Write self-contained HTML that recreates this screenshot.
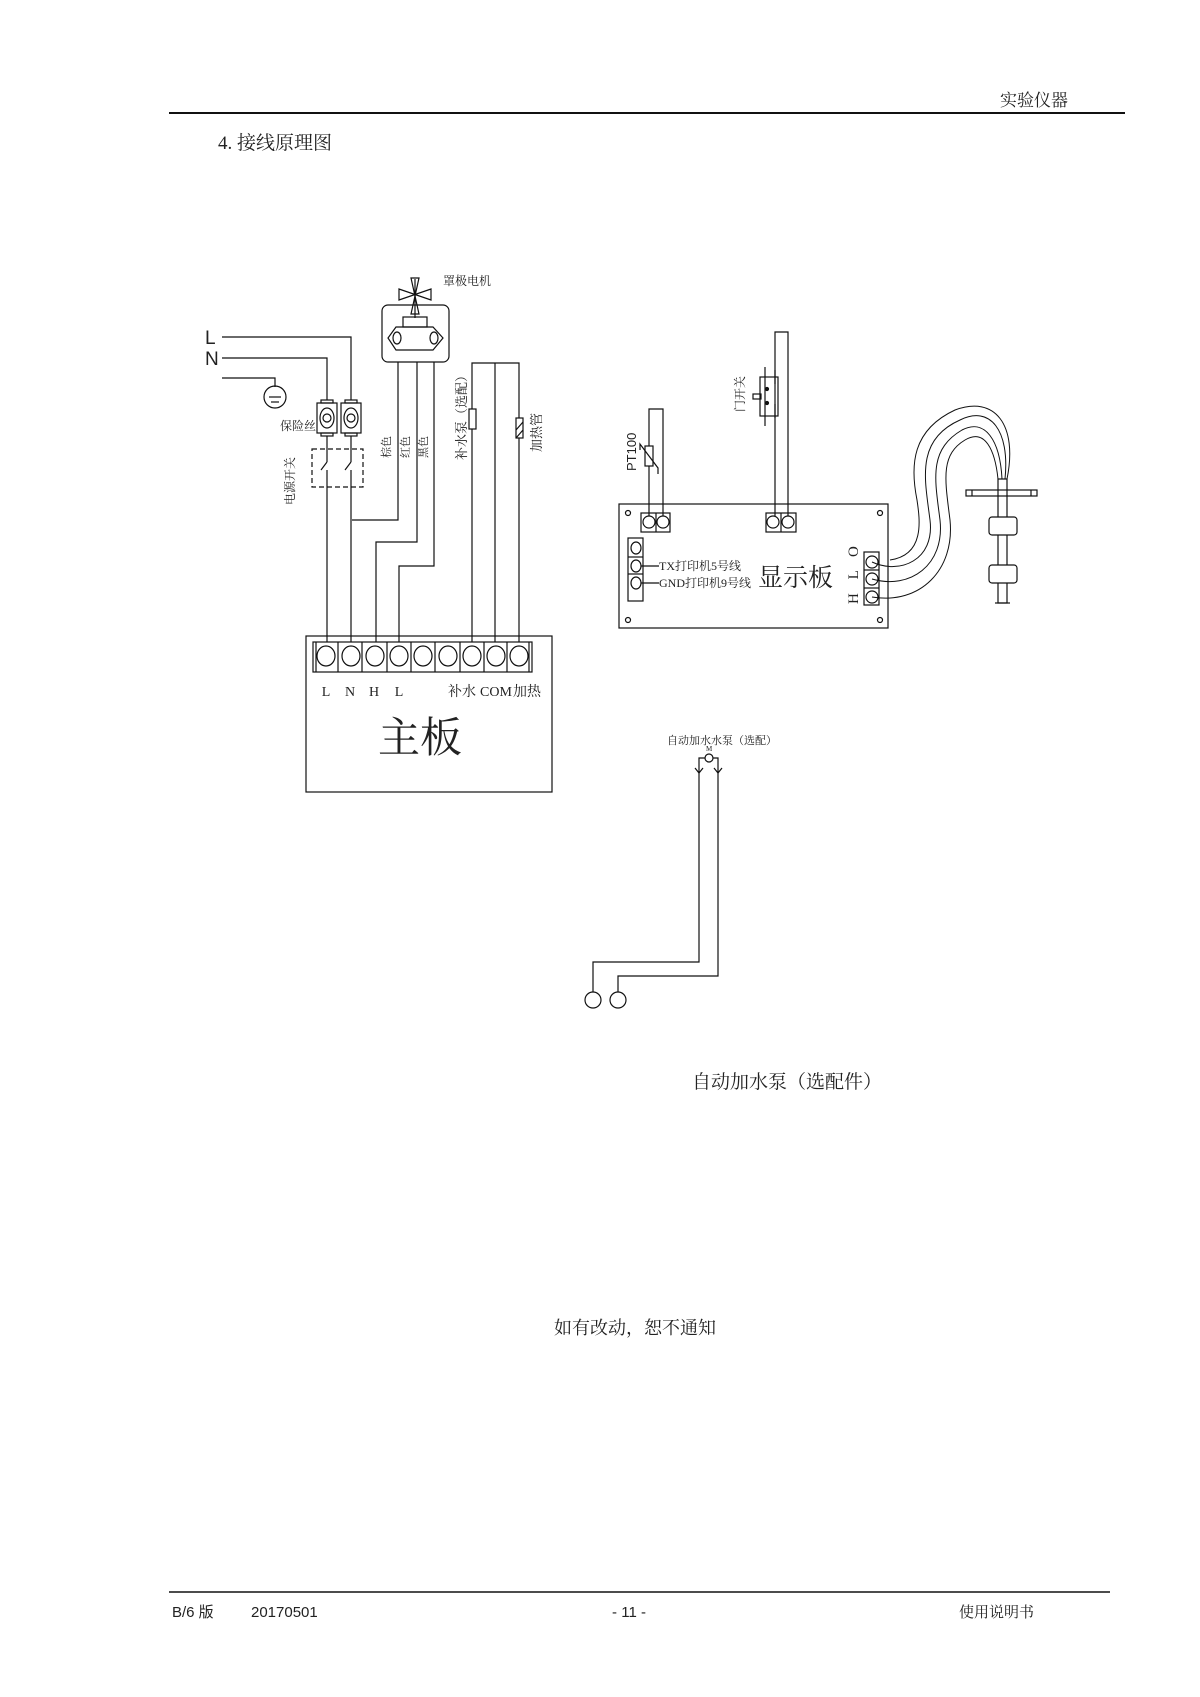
<!DOCTYPE html>
<html><head><meta charset="utf-8"><style>
html,body{margin:0;padding:0;background:#fff;}
svg{display:block;}
text{font-family:"Liberation Serif","Noto Serif CJK SC",serif;fill:#222;}
.s{font-family:"Liberation Sans","Noto Sans CJK SC",sans-serif;}
</style></head><body>
<svg width="1200" height="1697" viewBox="0 0 1200 1697" xmlns="http://www.w3.org/2000/svg" fill="none" stroke="#111" stroke-width="1.2">
<!-- header -->
<text x="1068" y="106" font-size="17" text-anchor="end" stroke="none">实验仪器</text>
<line x1="169" y1="113" x2="1125" y2="113" stroke-width="2"/>
<text x="218" y="149" font-size="19" stroke="none">4.  接线原理图</text>

<!-- mains -->
<text class="s" x="205" y="344" font-size="19" stroke="none" font-weight="lighter">L</text>
<text class="s" x="205" y="365" font-size="19" stroke="none">N</text>
<polyline points="222,337 351,337 351,400"/>
<polyline points="222,358 327,358 327,400"/>
<polyline points="222,378 275,378 275,387"/>
<circle cx="275" cy="397" r="11"/>
<line x1="269" y1="397" x2="281" y2="397"/><line x1="271" y1="402" x2="279" y2="402"/>
<!-- fuses -->
<g>
<rect x="317" y="403" width="20" height="30"/><rect x="321" y="400" width="12" height="3"/><rect x="321" y="433" width="12" height="3"/>
<ellipse cx="327" cy="418" rx="7" ry="10"/><circle cx="327" cy="418" r="4"/>
<rect x="341" y="403" width="20" height="30"/><rect x="345" y="400" width="12" height="3"/><rect x="345" y="433" width="12" height="3"/>
<ellipse cx="351" cy="418" rx="7" ry="10"/><circle cx="351" cy="418" r="4"/>
</g>
<text x="280" y="430" font-size="12" stroke="none">保险丝</text>
<!-- switch -->
<rect x="312" y="449" width="51" height="38" stroke-dasharray="5,3"/>
<line x1="327" y1="436" x2="327" y2="462"/><line x1="327" y1="462" x2="321" y2="470"/>
<line x1="351" y1="436" x2="351" y2="462"/><line x1="351" y1="462" x2="345" y2="470"/>
<line x1="327" y1="470" x2="327" y2="642"/><line x1="351" y1="470" x2="351" y2="642"/>
<text x="0" y="0" font-size="12" stroke="none" transform="translate(294,505) rotate(-90)">电源开关</text>

<!-- motor -->
<text x="443" y="285" font-size="12" stroke="none">罩极电机</text>
<g>
<line x1="415" y1="279" x2="415" y2="318"/>
<polygon points="411,278 419,278 415,296"/>
<polygon points="399,289 399,300 431,289 431,300"/>
<polygon points="411,314 419,314 415,296"/>
</g>
<rect x="382" y="305" width="67" height="57" rx="6"/>
<rect x="403" y="317" width="24" height="10"/>
<polygon points="396,327 433,327 443,338 433,350 396,350 388,338"/>
<ellipse cx="397" cy="338" rx="4" ry="6"/><ellipse cx="434" cy="338" rx="4" ry="6"/>
<polyline points="398,362 398,520 352,520"/>
<polyline points="417,362 417,542 376,542 376,642"/>
<polyline points="434,362 434,566 399,566 399,642"/>
<text font-size="11" stroke="none" transform="translate(390,458) rotate(-90)">棕色</text>
<text font-size="11" stroke="none" transform="translate(409,458) rotate(-90)">红色</text>
<text font-size="11" stroke="none" transform="translate(427,458) rotate(-90)">黑色</text>

<!-- pump / heater -->
<polyline points="472,642 472,363 519,363 519,642"/>
<line x1="495" y1="363" x2="495" y2="642"/>
<rect x="469" y="409" width="7" height="20" fill="#fff"/>
<rect x="516" y="418" width="7" height="20" fill="#fff"/>
<line x1="516" y1="430" x2="523" y2="422"/><line x1="516" y1="438" x2="523" y2="430"/>
<text font-size="13" stroke="none" transform="translate(466,460) rotate(-90)">补水泵（选配）</text>
<text font-size="13" stroke="none" transform="translate(541,452) rotate(-90)">加热管</text>

<!-- main board -->
<rect x="306" y="636" width="246" height="156"/>
<g>
<rect x="313" y="642" width="219" height="30"/>
<line x1="316" y1="642" x2="316" y2="672"/><line x1="529" y1="642" x2="529" y2="672"/>
<line x1="338" y1="642" x2="338" y2="672"/><line x1="362" y1="642" x2="362" y2="672"/>
<line x1="387" y1="642" x2="387" y2="672"/><line x1="411" y1="642" x2="411" y2="672"/>
<line x1="435" y1="642" x2="435" y2="672"/><line x1="460" y1="642" x2="460" y2="672"/>
<line x1="484" y1="642" x2="484" y2="672"/><line x1="507" y1="642" x2="507" y2="672"/>
<ellipse cx="326" cy="656" rx="9" ry="10"/><ellipse cx="351" cy="656" rx="9" ry="10"/>
<ellipse cx="375" cy="656" rx="9" ry="10"/><ellipse cx="399" cy="656" rx="9" ry="10"/>
<ellipse cx="423" cy="656" rx="9" ry="10"/><ellipse cx="448" cy="656" rx="9" ry="10"/>
<ellipse cx="472" cy="656" rx="9" ry="10"/><ellipse cx="496" cy="656" rx="9" ry="10"/>
<ellipse cx="519" cy="656" rx="9" ry="10"/>
</g>
<g font-size="14" stroke="none" text-anchor="middle">
<text x="326" y="696">L</text><text x="350" y="696">N</text><text x="374" y="696">H</text><text x="399" y="696">L</text>
<text x="462" y="696">补水</text><text x="496" y="696">COM</text><text x="527" y="696">加热</text>
</g>
<text x="420" y="752" font-size="42" text-anchor="middle" stroke="none">主板</text>

<!-- display board -->
<rect x="619" y="504" width="269" height="124"/>
<circle cx="628" cy="513" r="2.5"/><circle cx="880" cy="513" r="2.5"/><circle cx="628" cy="620" r="2.5"/><circle cx="880" cy="620" r="2.5"/>
<rect x="641" y="513" width="29" height="19"/><line x1="656" y1="513" x2="656" y2="532"/>
<circle cx="649" cy="522" r="6"/><circle cx="663" cy="522" r="6"/>
<polyline points="649,516 649,409 663,409 663,516"/>
<rect x="645" y="446" width="8" height="20" fill="#fff"/>
<polyline points="640,450 640,444 658,468 658,474"/>
<text class="s" font-size="13" stroke="none" transform="translate(636,471) rotate(-90)">PT100</text>
<rect x="766" y="513" width="30" height="19"/><line x1="781" y1="513" x2="781" y2="532"/>
<circle cx="773" cy="522" r="6"/><circle cx="788" cy="522" r="6"/>
<polyline points="775,516 775,332 788,332 788,516"/>
<rect x="760" y="377" width="18" height="39"/>
<line x1="765" y1="367" x2="765" y2="426"/><line x1="775" y1="370" x2="775" y2="384"/><line x1="775" y1="404" x2="775" y2="418"/>
<rect x="753" y="394" width="8" height="5"/>
<circle cx="767" cy="389" r="1.5" fill="#111"/><circle cx="767" cy="403" r="1.5" fill="#111"/>
<text font-size="12" stroke="none" transform="translate(744,412) rotate(-90)">门开关</text>
<rect x="628" y="538" width="15" height="63"/><line x1="628" y1="557" x2="643" y2="557"/><line x1="628" y1="574" x2="643" y2="574"/>
<ellipse cx="636" cy="548" rx="5" ry="6"/><ellipse cx="636" cy="566" rx="5" ry="6"/><ellipse cx="636" cy="583" rx="5" ry="6"/>
<line x1="641" y1="566" x2="659" y2="566"/><line x1="641" y1="583" x2="659" y2="583"/>
<text x="659" y="570" font-size="12" stroke="none">TX打印机5号线</text>
<text x="659" y="587" font-size="12" stroke="none">GND打印机9号线</text>
<text x="758" y="586" font-size="25" stroke="none">显示板</text>
<rect x="864" y="552" width="15" height="53"/><line x1="864" y1="570" x2="879" y2="570"/><line x1="864" y1="588" x2="879" y2="588"/>
<circle cx="872" cy="562" r="6"/><circle cx="872" cy="579" r="6"/><circle cx="872" cy="597" r="6"/>
<text font-size="15" stroke="none" transform="translate(858,604) rotate(-90)" letter-spacing="5">H L O</text>
<!-- cables -->
<g stroke-width="1">
<path d="M872,562 C900,575 935,560 930,520 C925,480 915,440 960,420 C990,405 1010,430 1005,479"/>
<path d="M872,579 C910,590 945,565 940,520 C935,480 928,450 962,430 C985,418 1000,440 1002,479"/>
<path d="M872,597 C920,605 955,570 950,520 C945,480 940,455 965,440 C985,428 995,450 998,479"/>
<path d="M890,560 C925,555 920,520 917,500 C910,465 912,430 955,410 C995,395 1018,425 1007,479"/>
</g>
<!-- float sensor -->
<rect x="998" y="479" width="9" height="124"/>
<rect x="966" y="490" width="71" height="6"/>
<line x1="972" y1="490" x2="972" y2="496"/><line x1="1031" y1="490" x2="1031" y2="496"/>
<rect x="989" y="517" width="28" height="18" rx="3" fill="#fff"/>
<rect x="989" y="565" width="28" height="18" rx="3" fill="#fff"/>
<line x1="995" y1="603" x2="1010" y2="603"/>

<!-- auto pump -->
<text x="667" y="744" font-size="11" stroke="none">自动加水水泵（选配）</text>
<text x="706" y="751" font-size="7" stroke="none">M</text>
<circle cx="709" cy="758" r="4"/>
<polyline points="705,758 699,758 699,962 593,962 593,992"/>
<polyline points="713,758 718,758 718,976 618,976 618,992"/>
<polyline points="695,768 699,773 703,768"/><polyline points="714,768 718,773 722,768"/>
<circle cx="593" cy="1000" r="8"/><circle cx="618" cy="1000" r="8"/>
<text x="692" y="1088" font-size="19" stroke="none">自动加水泵（选配件）</text>

<text x="554" y="1334" font-size="18" stroke="none">如有改动，恕不通知</text>

<!-- footer -->
<line x1="169" y1="1592" x2="1110" y2="1592" stroke-width="1.5"/>
<text class="s" x="172" y="1617" font-size="15" stroke="none">B/6 版</text>
<text class="s" x="251" y="1617" font-size="15" stroke="none">20170501</text>
<text class="s" x="629" y="1617" font-size="15" stroke="none" text-anchor="middle">- 11 -</text>
<text x="959" y="1617" font-size="15" stroke="none">使用说明书</text>
</svg>
</body></html>
